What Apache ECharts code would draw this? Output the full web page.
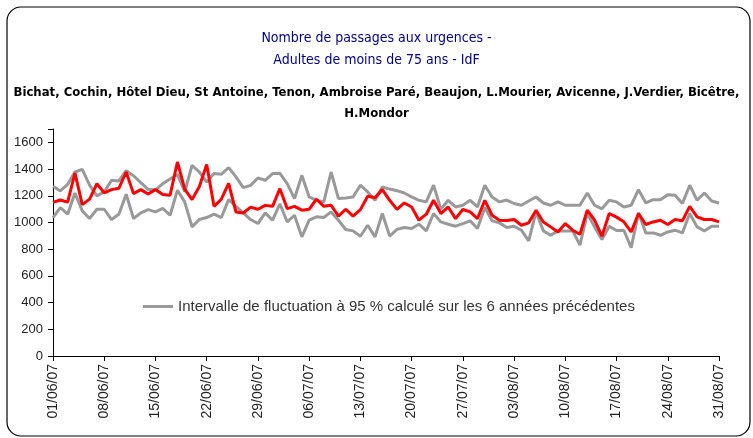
<!DOCTYPE html>
<html>
<head>
<meta charset="utf-8">
<script src="https://cdn.jsdelivr.net/npm/echarts@6/dist/echarts.min.js"></script>
<style>
  html, body { margin: 0; padding: 0; background: #fff; }
  #chart { width: 753px; height: 438px; }
</style>
</head>
<body>
<div id="chart"></div>
<script>
// passages observés 2007 (rouge)
const passages = [
    1150, 1168, 1152, 1370, 1134, 1175, 1290, 1222, 1246, 1256,
    1378, 1216, 1246, 1213, 1246, 1210, 1204, 1453, 1250, 1171,
    1270, 1434, 1121, 1174, 1293, 1078, 1071, 1115, 1099, 1128,
    1121, 1253, 1104, 1121, 1092, 1099, 1174, 1121, 1129, 1047,
    1099, 1047, 1096, 1196, 1186, 1246, 1166, 1098, 1146, 1116,
    1017, 1062, 1166, 1067, 1116, 1029, 1097, 1079, 1029, 1166,
    1054, 1017, 1015, 1022, 979, 997, 1092, 1004, 967, 929,
    992, 942, 912, 1092, 1017, 897, 1067, 1040, 1005, 929,
    1067, 985, 1004, 1017, 985, 1022, 1012, 1121, 1042, 1022,
    1022, 1004
];

// borne haute de l'intervalle
const borneHaute = [
    1271, 1236, 1286, 1378, 1398, 1279, 1199, 1229, 1316, 1311,
    1388, 1350, 1298, 1248, 1243, 1291, 1325, 1360, 1230, 1428,
    1378, 1303, 1366, 1361, 1411, 1341, 1261, 1278, 1333, 1316,
    1366, 1368, 1291, 1179, 1353, 1191, 1166, 1154, 1378, 1179,
    1184, 1191, 1279, 1229, 1166, 1266, 1250, 1238, 1221, 1191,
    1166, 1154, 1279, 1100, 1166, 1116, 1129, 1166, 1116, 1279,
    1191, 1154, 1168, 1142, 1129, 1161, 1191, 1146, 1129, 1154,
    1129, 1129, 1129, 1221, 1129, 1102, 1166, 1154, 1116, 1129,
    1246, 1146, 1171, 1171, 1208, 1203, 1142, 1279, 1166, 1221,
    1161, 1146
];

// borne basse de l'intervalle
const borneBasse = [
    1037, 1111, 1062, 1221, 1087, 1030, 1099, 1099, 1022, 1062,
    1211, 1030, 1072, 1096, 1079, 1105, 1054, 1241, 1154, 967,
    1022, 1037, 1062, 1037, 1171, 1121, 1072, 1022, 992, 1072,
    1017, 1140, 1004, 1054, 892, 1017, 1042, 1037, 1079, 1017,
    947, 937, 897, 979, 892, 1067, 898, 948, 962, 955,
    987, 937, 1067, 1004, 987, 972, 992, 1012, 955, 1112,
    1012, 997, 962, 972, 942, 862, 1079, 937, 904, 937,
    937, 937, 830, 1067, 967, 872, 972, 940, 942, 812,
    1072, 922, 922, 904, 929, 942, 922, 1067, 967, 937,
    972, 972
];

// dates du 01/06/07 au 31/08/07
const dates = [];
const moisJours = [[6, 30], [7, 31], [8, 31]];
moisJours.forEach(([m, n]) => {
    for (let d = 1; d <= n; d++) {
        dates.push(String(d).padStart(2, '0') + '/' + String(m).padStart(2, '0') + '/07');
    }
});

const legendName = 'Intervalle de fluctuation à 95 % calculé sur les 6 années précédentes';
const gris = '#999999';
const fontTitre = "'Liberation Sans Narrow', 'DejaVu Sans Condensed', 'Liberation Sans', sans-serif";

const chart = echarts.init(document.getElementById('chart'));

chart.setOption({
    animation: false,
    backgroundColor: '#fff',
    graphic: [
        {
            type: 'rect',
            shape: { x: 7, y: 7, width: 743, height: 429, r: 14 },
            style: { fill: 'none', stroke: '#000', lineWidth: 1.2 },
            silent: true
        }
    ],
    title: [
        {
            text: 'Nombre de passages aux urgences -\nAdultes de moins de 75 ans - IdF',
            left: 'center',
            top: 22,
            textStyle: {
                color: '#000080',
                fontFamily: fontTitre,
                fontSize: 14,
                fontWeight: 'normal',
                lineHeight: 22,
                align: 'center'
            }
        },
        {
            text: 'Bichat, Cochin, Hôtel Dieu, St Antoine, Tenon, Ambroise Paré, Beaujon, L.Mourier, Avicenne, J.Verdier, Bicêtre,\nH.Mondor',
            left: 'center',
            top: 77,
            textStyle: {
                color: '#000',
                fontFamily: fontTitre,
                fontSize: 13,
                fontWeight: 'bold',
                lineHeight: 21,
                align: 'center'
            }
        }
    ],
    legend: {
        data: [{ name: legendName, icon: 'rect' }],
        left: 138,
        top: 294,
        itemWidth: 30,
        itemHeight: 3,
        itemGap: 8,
        textStyle: {
            color: '#333',
            fontFamily: "'Liberation Sans', sans-serif",
            fontSize: 15
        }
    },
    grid: {
        left: 53,
        right: 34,
        top: 129,
        bottom: 82,
        outerBoundsMode: 'none'
    },
    xAxis: {
        type: 'category',
        data: dates,
        boundaryGap: false,
        axisLine: { lineStyle: { color: '#000', width: 1 } },
        axisTick: {
            interval: (i) => i % 7 === 0,
            length: 5,
            lineStyle: { color: '#000' }
        },
        axisLabel: {
            interval: (i) => i % 7 === 0,
            rotate: 90,
            margin: 8,
            color: '#222',
            fontFamily: "'Liberation Sans', sans-serif",
            fontSize: 14
        },
        splitLine: { show: false }
    },
    yAxis: {
        type: 'value',
        min: 0,
        max: 1700,
        interval: 200,
        axisLine: { show: true, lineStyle: { color: '#000', width: 1 } },
        axisTick: { show: true, length: 5, lineStyle: { color: '#000' } },
        axisLabel: {
            color: '#222',
            margin: 10,
            fontFamily: "'Liberation Sans', sans-serif",
            fontSize: 13,
            formatter: (v) => (v > 1600 ? '' : String(v))
        },
        splitLine: { show: false }
    },
    series: [
        {
            name: legendName,
            type: 'line',
            data: borneHaute,
            symbol: 'none',
            lineStyle: { color: gris, width: 3 },
            itemStyle: { color: gris },
            z: 2
        },
        {
            name: legendName,
            type: 'line',
            data: borneBasse,
            symbol: 'none',
            lineStyle: { color: gris, width: 3 },
            itemStyle: { color: gris },
            z: 2
        },
        {
            name: 'Passages',
            type: 'line',
            data: passages,
            symbol: 'none',
            lineStyle: { color: '#ff0000', width: 3 },
            itemStyle: { color: '#ff0000' },
            z: 3
        }
    ]
});
</script>
</body>
</html>
